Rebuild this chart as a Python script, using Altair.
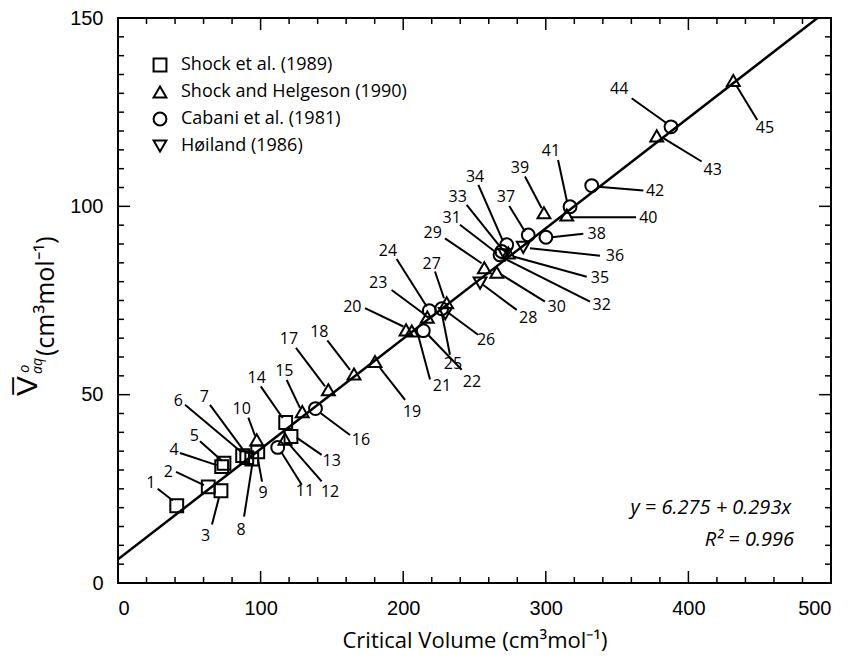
import altair as alt
import pandas as pd

# ---------------- data ----------------
point_id = list(range(1, 46))
series_names = ["Shock et al. (1989)", "Shock and Helgeson (1990)",
                "Cabani et al. (1981)", "Høiland (1986)"]
series_shapes = ["square", "triangle-up", "circle", "triangle-down"]
# index into series_names for each point
source_idx = [0, 0, 0, 0, 0, 0, 0, 0, 0, 1,
              2, 1, 0, 0, 1, 2, 1, 1, 1, 1,
              1, 2, 1, 2, 2, 3, 1, 3, 1, 1,
              2, 3, 2, 2, 1, 3, 2, 2, 1, 1,
              2, 2, 1, 2, 1]
critical_volume = [41.2, 63.3, 72.2, 72.7, 74.3, 87.4, 90.3, 93.8, 98.0, 97.3,
                   112.0, 117.1, 121.3, 117.6, 129.2, 138.5, 147.5, 165.5, 180.2, 202.0,
                   206.0, 214.1, 216.9, 218.3, 227.0, 229.5, 230.5, 253.9, 256.9, 265.6,
                   267.9, 271.4, 269.1, 272.6, 273.7, 284.2, 287.7, 300.1, 298.7, 314.7,
                   317.0, 332.2, 377.8, 387.8, 431.5]
v_aq = [20.5, 25.5, 24.5, 30.9, 31.8, 33.8, 33.3, 32.9, 34.8, 38.0,
        36.0, 38.2, 38.9, 42.6, 45.5, 46.3, 51.3, 55.5, 58.8, 67.2,
        66.9, 67.0, 70.6, 72.3, 72.8, 71.5, 74.4, 79.6, 83.7, 82.5,
        87.1, 87.1, 88.0, 89.8, 87.6, 89.1, 92.4, 91.8, 98.3, 97.7,
        99.9, 105.5, 118.7, 121.1, 133.4]
# label positions (data units)
label_x = [23.1, 35.3, 61.5, 39.3, 53.5, 42.3, 60.5, 86.3, 101.7, 86.7,
           131.1, 148.7, 149.9, 97.3, 116.6, 170.4, 119.9, 141.2, 206.2, 164.3,
           227.2, 248.2, 182.5, 189.3, 234.9, 258.1, 220.0, 287.7, 220.7, 307.6,
           234.0, 339.2, 238.2, 250.4, 338.0, 348.5, 272.1, 335.7, 281.9, 371.9,
           303.6, 376.6, 417.0, 351.5, 453.7]
label_y = [26.6, 29.6, 12.4, 35.4, 39.1, 48.4, 49.5, 14.1, 24.0, 46.2,
           24.3, 24.2, 32.4, 54.4, 56.3, 38.0, 64.8, 66.6, 45.4, 73.2,
           52.3, 53.4, 79.6, 88.2, 58.2, 64.6, 84.7, 70.3, 92.9, 73.2,
           96.8, 73.7, 102.4, 107.7, 80.9, 86.7, 102.6, 92.7, 110.1, 96.8,
           114.7, 104.2, 109.7, 131.1, 120.9]
# leader lines: from (lead_x1, lead_y1) near label to (lead_x2, lead_y2) near marker
lead_x1 = [27.8, 40.7, 65.9, 43.5, 57.5, 47.0, 64.5, 88.4, 101.0, 91.4,
           128.8, 142.8, 142.8, 100.1, 118.3, 162.7, 124.8, 146.8, 201.3, 173.2,
           218.8, 241.0, 191.9, 195.4, 232.8, 252.5, 222.3, 279.6, 229.3, 299.4,
           239.8, 331.0, 244.5, 252.7, 328.7, 338.0, 274.4, 326.3, 285.4, 363.3,
           308.6, 368.4, 409.3, 360.2, 448.3]
lead_y1 = [25.0, 29.5, 15.5, 34.5, 37.6, 47.3, 47.3, 17.6, 26.9, 43.9,
           26.1, 27.0, 34.0, 52.2, 53.9, 39.3, 62.4, 64.4, 48.6, 73.0,
           54.0, 56.6, 77.8, 86.0, 60.6, 65.9, 82.7, 72.5, 91.5, 74.7,
           95.1, 74.7, 100.4, 105.7, 81.3, 86.9, 100.1, 92.7, 107.9, 97.1,
           112.3, 104.2, 111.9, 128.7, 122.9]
lead_x2 = [38.4, 60.3, 70.8, 69.2, 72.7, 86.7, 89.1, 94.0, 98.2, 96.1,
           114.8, 119.2, 125.3, 115.5, 127.6, 141.7, 145.2, 162.7, 183.7, 200.1,
           210.4, 217.4, 215.3, 216.5, 227.0, 230.7, 228.6, 256.2, 255.0, 269.1,
           265.6, 272.6, 267.9, 269.8, 277.2, 288.9, 285.4, 304.1, 297.1, 317.0,
           314.9, 336.8, 382.4, 384.3, 433.9]
lead_y2 = [21.9, 26.0, 22.7, 31.3, 32.5, 34.7, 34.7, 31.1, 32.7, 39.1,
           34.6, 37.2, 38.6, 43.8, 46.5, 45.2, 52.2, 56.6, 57.1, 68.1,
           65.9, 65.9, 71.2, 73.4, 71.7, 72.0, 75.6, 79.1, 84.9, 81.8,
           87.6, 85.8, 89.3, 90.9, 86.7, 88.9, 93.3, 91.8, 99.5, 97.1,
           101.2, 105.2, 118.1, 122.2, 131.9]
fit_intercept = [6.275]
fit_slope = [0.293]
fit_r2 = [0.996]
x_range = [0, 500]
y_range = [0, 150]
x_major = [0, 100, 200, 300, 400, 500]
x_minor = [20, 40, 60, 80, 120, 140, 160, 180, 220, 240, 260, 280,
           320, 340, 360, 380, 420, 440, 460, 480]
y_major = [0, 50, 100, 150]
y_minor = [5, 10, 15, 20, 25, 30, 35, 40, 45, 55, 60, 65, 70, 75, 80, 85, 90, 95,
           105, 110, 115, 120, 125, 130, 135, 140, 145]

# ---------------- layout ----------------
W, H = 713, 565
FONT_NUM = "Liberation Sans"
FONT_HAND = "Open Sans"

pts = pd.DataFrame({
    "id": [str(i) for i in point_id],
    "source": [series_names[i] for i in source_idx],
    "cv": critical_volume, "v": v_aq,
    "lx": label_x, "ly": label_y,
    "x1": lead_x1, "y1": lead_y1, "x2": lead_x2, "y2": lead_y2,
})
fit = pd.DataFrame({"cv": x_range,
                    "v": [fit_intercept[0] + fit_slope[0] * x for x in x_range]})

xs = alt.Scale(domain=x_range, nice=False, zero=False)
ys = alt.Scale(domain=y_range, nice=False, zero=False)
ax_x = alt.Axis(values=x_major, title="Critical Volume (cm³mol⁻¹)",
                labelFontSize=20, labelFont=FONT_NUM, labelPadding=15,
                titleFont=FONT_HAND, titleFontSize=22, titleFontWeight="normal",
                titlePadding=12, domain=False, ticks=False, grid=False,
                labelColor="black", titleColor="black")
ax_y = alt.Axis(values=y_major, title="", labelFontSize=20, labelFont=FONT_NUM,
                labelPadding=15, domain=False, ticks=False, grid=False,
                labelColor="black")

def X(field):
    return alt.X(field, scale=xs, axis=ax_x, title="Critical Volume (cm³mol⁻¹)")

def Y(field):
    return alt.Y(field, scale=ys, axis=ax_y, title="")

base_pts = alt.Chart(pts)

points = base_pts.mark_point(filled=False, size=165, strokeWidth=2, color="black", opacity=1).encode(
    x=X("cv:Q"), y=Y("v:Q"),
    shape=alt.Shape("source:N",
                    scale=alt.Scale(domain=series_names, range=series_shapes),
                    legend=alt.Legend(orient="none", legendX=33, legendY=38, title=None,
                                      symbolSize=165, symbolStrokeWidth=2,
                                      symbolStrokeColor="black", symbolFillColor="transparent",
                                      labelFont=FONT_HAND, labelFontSize=18, labelColor="black",
                                      labelLimit=0, rowPadding=6, labelOffset=12, padding=0)),
)

leaders = base_pts.mark_rule(strokeWidth=2, color="black").encode(
    x=X("x1:Q"), y=Y("y1:Q"), x2="x2:Q", y2="y2:Q")

labels = base_pts.mark_text(font=FONT_HAND, fontSize=16, color="black",
                            align="center", baseline="middle").encode(
    x=X("lx:Q"), y=Y("ly:Q"), text="id:N")

fit_line = alt.Chart(fit).mark_line(color="black", strokeWidth=2.5, clip=True).encode(
    x=X("cv:Q"), y=Y("v:Q"))

def tick_layer(vals, orient, length):
    df = pd.DataFrame({"t": vals})
    c = alt.Chart(df).mark_rule(color="black", strokeWidth=1.5)
    if orient == "bottom":
        return c.encode(x=X("t:Q"), y=alt.value(H), y2=alt.value(H - length))
    if orient == "top":
        return c.encode(x=X("t:Q"), y=alt.value(0), y2=alt.value(length))
    if orient == "left":
        return c.encode(y=Y("t:Q"), x=alt.value(0), x2=alt.value(length))
    return c.encode(y=Y("t:Q"), x=alt.value(W), x2=alt.value(W - length))

ticks = [tick_layer(x_minor, o, 6) for o in ("bottom", "top")] + \
        [tick_layer(x_major, o, 12) for o in ("bottom", "top")] + \
        [tick_layer(y_minor, o, 6) for o in ("left", "right")] + \
        [tick_layer(y_major, o, 12) for o in ("left", "right")]

eq_df = pd.DataFrame({"t": [f"y = {fit_intercept[0]:.3f} + {fit_slope[0]:.3f}x"]})
r2_df = pd.DataFrame({"t": [f"R² = {fit_r2[0]:.3f}"]})
eq_text = alt.Chart(eq_df).mark_text(font=FONT_HAND, fontSize=20, fontStyle="italic",
                                     align="right", baseline="middle", color="black").encode(
    x=alt.value(673), y=alt.value(490), text="t:N")
r2_text = alt.Chart(r2_df).mark_text(font=FONT_HAND, fontSize=20, fontStyle="italic",
                                     align="right", baseline="middle", color="black").encode(
    x=alt.value(676), y=alt.value(522), text="t:N")

# y-axis title pieces (rotated)
yt_v = alt.Chart(pd.DataFrame({"t": ["V\u0305"]})).mark_text(
    font=FONT_NUM, fontSize=30, angle=270, align="left", baseline="middle", color="black").encode(
    x=alt.value(-90), y=alt.value(378), text="t:N")
yt_o = alt.Chart(pd.DataFrame({"t": ["o"]})).mark_text(
    font=FONT_HAND, fontSize=15, fontStyle="italic", angle=270, align="left", baseline="middle",
    color="black").encode(x=alt.value(-94), y=alt.value(355), text="t:N")
yt_aq = alt.Chart(pd.DataFrame({"t": ["aq"]})).mark_text(
    font=FONT_HAND, fontSize=14, fontStyle="italic", angle=270, align="left", baseline="middle",
    color="black").encode(x=alt.value(-80), y=alt.value(356), text="t:N")
yt_unit = alt.Chart(pd.DataFrame({"t": ["(cm³mol⁻¹)"]})).mark_text(
    font=FONT_HAND, fontSize=25, angle=270, align="left", baseline="middle", color="black").encode(
    x=alt.value(-72), y=alt.value(338), text="t:N")

chart = alt.layer(
    fit_line, leaders, points, labels, eq_text, r2_text, yt_v, yt_o, yt_aq, yt_unit, *ticks
).properties(
    width=W, height=H,
    padding={"left": 110, "top": 10, "right": 10, "bottom": 78},
    autosize=alt.AutoSizeParams(type="none"),
    background="white",
).configure_view(stroke="black", strokeWidth=2)

chart.save("out.html", embed_options={"renderer": "svg", "actions": False})
